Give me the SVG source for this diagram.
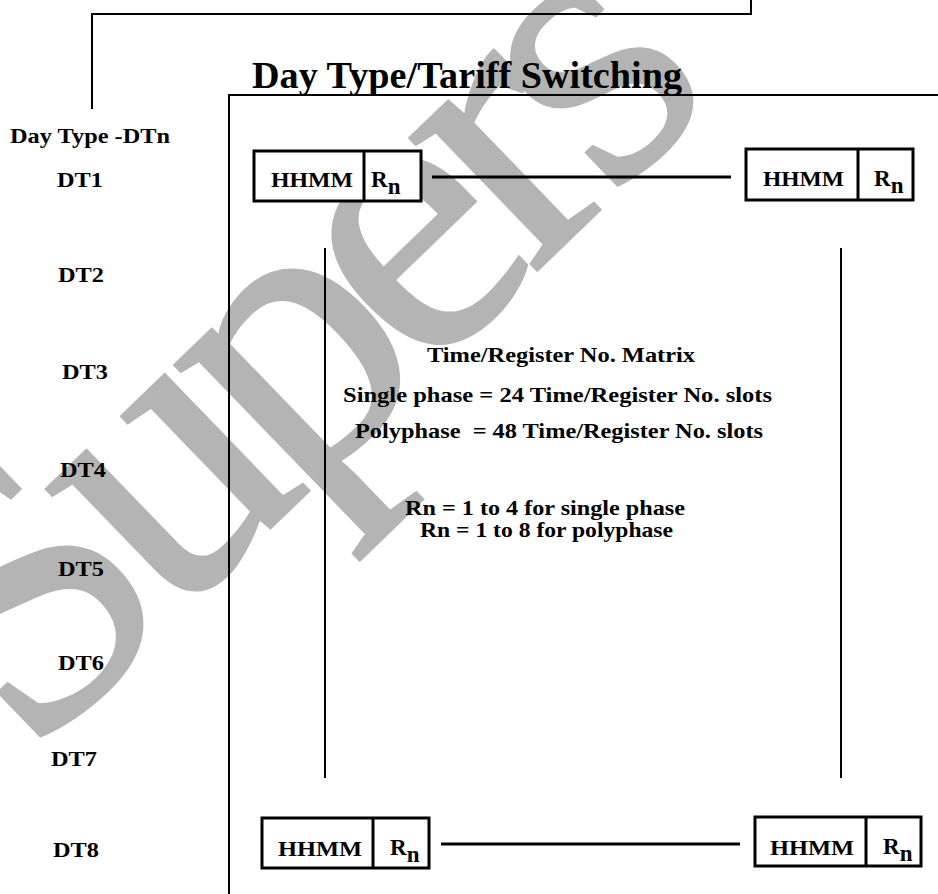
<svg xmlns="http://www.w3.org/2000/svg" width="938" height="894" viewBox="0 0 938 894">
<style>
.t{font-family:"Liberation Serif","Times New Roman",serif;font-weight:bold;fill:#000;white-space:pre}
.lab{font-size:21px}
.rn{font-size:23px}
.big{font-size:37px}
.mid{font-size:21px}
.bx{fill:#fff;stroke:#000;stroke-width:3}
.dv{stroke:#000;stroke-width:3}
.ln{stroke:#000;stroke-width:2;fill:none}
.cn{stroke:#000;stroke-width:3;fill:none}
.wm{font-family:"Liberation Serif","Times New Roman",serif;font-size:400px;letter-spacing:-25px;fill:#b4b4b4;stroke:#b4b4b4;stroke-width:3}
</style>
<rect width="938" height="894" fill="#fff"/>
<g id="watermark">
<text class="wm" transform="translate(28,762) rotate(-44)">Supers</text>
</g>
<g id="frame">
<polyline class="ln" points="751,0 751,14 92,14 92,109"/>
<polyline class="ln" points="938,95 229,95 229,894"/>
</g>
<g id="title"><text class="t big" x="252" y="88" textLength="430" lengthAdjust="spacingAndGlyphs">Day Type/Tariff Switching</text></g>
<g id="daytypes">
<text class="t lab" x="10" y="143" textLength="160" lengthAdjust="spacingAndGlyphs">Day Type -DTn</text>
<text class="t lab" x="57" y="187" textLength="46" lengthAdjust="spacingAndGlyphs">DT1</text>
<text class="t lab" x="58" y="282" textLength="46" lengthAdjust="spacingAndGlyphs">DT2</text>
<text class="t lab" x="62" y="379" textLength="46" lengthAdjust="spacingAndGlyphs">DT3</text>
<text class="t lab" x="60" y="477" textLength="46" lengthAdjust="spacingAndGlyphs">DT4</text>
<text class="t lab" x="58" y="576" textLength="46" lengthAdjust="spacingAndGlyphs">DT5</text>
<text class="t lab" x="58" y="670" textLength="46" lengthAdjust="spacingAndGlyphs">DT6</text>
<text class="t lab" x="51" y="766" textLength="46" lengthAdjust="spacingAndGlyphs">DT7</text>
<text class="t lab" x="53" y="857" textLength="46" lengthAdjust="spacingAndGlyphs">DT8</text>
</g>
<g id="connectors">
<line class="cn" x1="432" y1="177" x2="731" y2="177"/>
<line class="cn" x1="441" y1="844" x2="740" y2="844"/>
<line class="ln" x1="325" y1="248" x2="325" y2="778"/>
<line class="ln" x1="841" y1="248" x2="841" y2="778"/>
</g>
<g id="slot-top-left">
<rect class="bx" x="254" y="151" width="167" height="50"/>
<line class="dv" x1="364" y1="151" x2="364" y2="201"/>
<text class="t lab" x="271" y="187" textLength="82" lengthAdjust="spacingAndGlyphs">HHMM</text>
<text class="t rn" x="371" y="187">R<tspan dy="7">n</tspan></text>
</g>
<g id="slot-top-right">
<rect class="bx" x="746" y="149" width="167" height="51"/>
<line class="dv" x1="858" y1="149" x2="858" y2="200"/>
<text class="t lab" x="763" y="186" textLength="81" lengthAdjust="spacingAndGlyphs">HHMM</text>
<text class="t rn" x="874" y="186">R<tspan dy="7">n</tspan></text>
</g>
<g id="slot-bottom-left">
<rect class="bx" x="262" y="818" width="167" height="50"/>
<line class="dv" x1="373" y1="818" x2="373" y2="868"/>
<text class="t lab" x="278" y="856" textLength="84" lengthAdjust="spacingAndGlyphs">HHMM</text>
<text class="t rn" x="390" y="855">R<tspan dy="7">n</tspan></text>
</g>
<g id="slot-bottom-right">
<rect class="bx" x="755" y="817" width="166" height="49"/>
<line class="dv" x1="866" y1="817" x2="866" y2="866"/>
<text class="t lab" x="770" y="855" textLength="84" lengthAdjust="spacingAndGlyphs">HHMM</text>
<text class="t rn" x="883" y="854">R<tspan dy="7">n</tspan></text>
</g>
<g id="matrix-notes">
<text class="t mid" x="427" y="362" textLength="268" lengthAdjust="spacingAndGlyphs">Time/Register No. Matrix</text>
<text class="t mid" x="343" y="402" textLength="429" lengthAdjust="spacingAndGlyphs">Single phase = 24 Time/Register No. slots</text>
<text class="t mid" x="355" y="438" textLength="408" lengthAdjust="spacingAndGlyphs">Polyphase  = 48 Time/Register No. slots</text>
<text class="t mid" x="405" y="515" textLength="280" lengthAdjust="spacingAndGlyphs">Rn = 1 to 4 for single phase</text>
<text class="t mid" x="420" y="537" textLength="253" lengthAdjust="spacingAndGlyphs">Rn = 1 to 8 for polyphase</text>
</g>
</svg>
